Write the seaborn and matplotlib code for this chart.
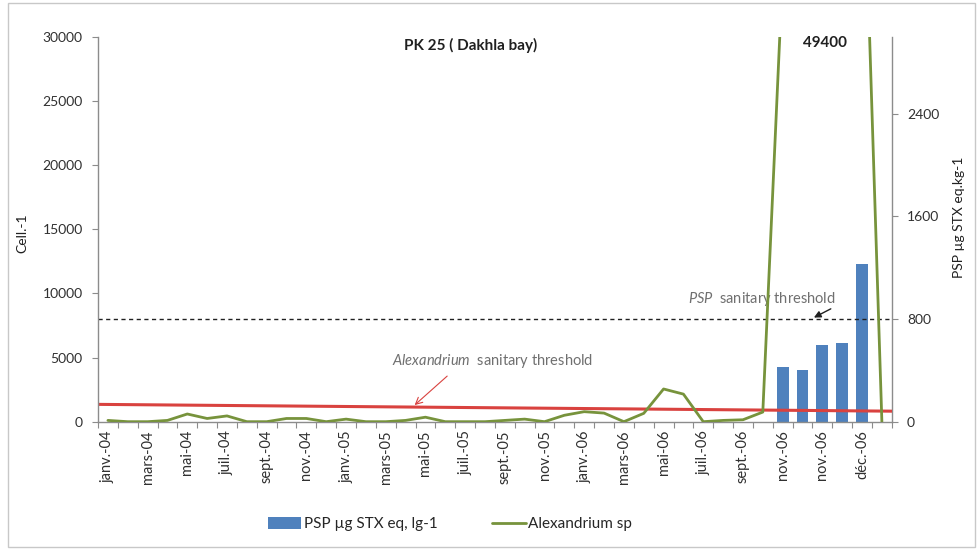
import numpy as np
import pandas as pd
import matplotlib
matplotlib.use("Agg")
import matplotlib.pyplot as plt
import seaborn as sns
from matplotlib.patches import Rectangle, Patch
from matplotlib.lines import Line2D

# Sampling dates (monthly, then weekly during the autumn 2006 bloom)
months = [
    "janv.-04", "févr.-04", "mars-04", "avr.-04", "mai-04", "juin-04",
    "juil.-04", "août-04", "sept.-04", "oct.-04", "nov.-04", "déc.-04",
    "janv.-05", "févr.-05", "mars-05", "avr.-05", "mai-05", "juin-05",
    "juil.-05", "août-05", "sept.-05", "oct.-05", "nov.-05", "déc.-05",
    "janv.-06", "févr.-06", "mars-06", "avr.-06", "mai-06", "juin-06",
    "juil.-06", "août-06", "sept.-06", "oct.-06", "nov.-06", "nov.-06",
    "nov.-06", "déc.-06", "déc.-06", "déc.-06",
]

# Alexandrium sp abundance (cells per litre)
alexandrium_cells = [
    100, 0, 0, 100, 600, 250, 450, 0, 0, 250, 250, 0,
    200, 0, 0, 100, 350, 0, 0, 0, 100, 200, 0, 500,
    780, 670, 0, 650, 2550, 2150, 0, 100, 150, 750, 35000, 42000,
    49400, 46000, 48500, 0,
]

# PSP toxicity in shellfish (µg STX eq per kg), only measured in late 2006
psp_sample_idx = [34, 35, 36, 37, 38]
psp_values = [430, 400, 600, 610, 1230]

# Sanitary thresholds
alex_threshold_ends = [1350, 820]   # cells/L, hand-drawn reference line
psp_threshold = 800                 # µg STX eq/kg

green = "#77933C"
blue = "#4F81BD"
red = "#D9423F"
grey = "#8C8C8C"
txt = "#303030"

sns.set_theme(style="white")
plt.rcParams["font.family"] = ["Lato", "DejaVu Sans"]
plt.rcParams["mathtext.fontset"] = "custom"
plt.rcParams["mathtext.it"] = "Lato:italic"
plt.rcParams["mathtext.rm"] = "Lato"

fig = plt.figure(figsize=(9.8, 5.5), dpi=100)
ax = fig.add_axes([0.1, 0.2333, 0.81, 0.6995])
ax2 = ax.twinx()

df_line = pd.DataFrame({"pos": np.arange(len(months)), "cells": alexandrium_cells})
df_bar = pd.DataFrame({"pos": psp_sample_idx, "psp": psp_values})

# PSP bars on the right-hand scale
sns.barplot(data=df_bar, x="pos", y="psp", ax=ax2, native_scale=True,
            width=0.6, color=blue, saturation=1, linewidth=0)
ax2.axhline(psp_threshold, color="#202020", lw=1, ls=(0, (3, 2.5)), zorder=5)

# Alexandrium threshold and abundance on the left-hand scale
ax.plot([-0.5, len(months) - 0.5], alex_threshold_ends, color=red, lw=2.2, zorder=2)
sns.lineplot(data=df_line, x="pos", y="cells", ax=ax, color=green, lw=2, zorder=3)

# Keep the line layer above the bars
ax.set_zorder(ax2.get_zorder() + 1)
ax.patch.set_visible(False)

ax.set_ylim(0, 30000)
ax2.set_ylim(0, 3000)
ax.set_xlim(-0.5, len(months) - 0.5)

# Category axis: labels on every other sample, ticks between samples
ax.set_xticks(np.arange(0, len(months), 2))
ax.set_xticklabels(months[::2], rotation=90, fontsize=10.5, color=txt)
ax.set_xticks(np.arange(-0.5, len(months), 1), minor=True)
ax.tick_params(axis="x", which="major", length=0, pad=6)
ax.tick_params(axis="x", which="minor", length=4, width=0.8, color=grey,
               direction="out", bottom=True)
ax.set_xlabel("")

ax.set_yticks(range(0, 30001, 5000))
ax.set_yticklabels([str(v) for v in range(0, 30001, 5000)])
ax.tick_params(axis="y", length=4, width=0.8, color=grey, direction="out",
               left=True, labelsize=10, labelcolor=txt, pad=7)
ax2.set_yticks([0, 800, 1600, 2400])
ax2.tick_params(axis="y", length=4, width=0.8, color=grey, direction="out",
                right=True, labelsize=10, labelcolor=txt, pad=7)

for s in ["top", "right"]:
    ax.spines[s].set_visible(False)
for s in ["top", "left", "bottom"]:
    ax2.spines[s].set_visible(False)
for s in ["left", "bottom"]:
    ax.spines[s].set_color(grey)
    ax.spines[s].set_linewidth(1)
ax2.spines["right"].set_color(grey)
ax2.spines["right"].set_linewidth(1)

ax.set_ylabel("Cell.-1", fontsize=10, color="#202020")
ax.yaxis.set_label_coords(-0.088, 0.49)
ax2.set_ylabel("PSP µg STX eq.kg-1", fontsize=10, color="#202020")
ax2.yaxis.set_label_coords(1.077, 0.532)

# Title and peak value
fig.text(471 / 980, 1 - 45 / 550, "PK 25 ( Dakhla bay)", ha="center", va="center",
         fontsize=11, fontweight="bold", color="#202020")
peak_idx = int(np.argmax(alexandrium_cells))
ax.annotate(f"{alexandrium_cells[peak_idx]:.0f}", xy=(peak_idx + 0.15, 0.984),
            xycoords=("data", "axes fraction"), ha="center", va="center",
            fontsize=11, fontweight="bold", color="#202020")

# Threshold annotations
ax.annotate("", xy=(15.35, 1150), xytext=(17.2, 3700),
            arrowprops=dict(arrowstyle="->", color=red, lw=0.8), zorder=6)
ax.text(19.4, 4700, r"$\it{Alexandrium}$  sanitary threshold", ha="center",
        va="center", fontsize=10.5, color="#707070")
ax2.annotate("", xy=(35.45, 802), xytext=(36.55, 890),
             arrowprops=dict(arrowstyle="-|>", color="#202020", lw=1,
                             mutation_scale=10), zorder=6)
ax2.text(32.95, 955, r"$\it{PSP}$  sanitary threshold", ha="center", va="center",
         fontsize=10.5, color="#707070")

# Legend below the plot
handles = [Patch(facecolor=blue, edgecolor="none"),
           Line2D([0], [0], color=green, lw=2)]
fig.legend(handles, ["PSP µg STX eq, lg-1", "Alexandrium sp"], ncol=2,
           loc="center", bbox_to_anchor=(0.459, 1 - 524 / 550), frameon=False,
           fontsize=11, handlelength=2.2, handleheight=0.9, handletextpad=0.15,
           columnspacing=3.6)

# Light outer frame around the chart area
fig.patches.append(Rectangle((8 / 980, 3 / 550), 967 / 980, 544 / 550,
                             transform=fig.transFigure, fill=False,
                             edgecolor="#C8C8C8", lw=1))

fig.savefig("out.png", dpi=100)
